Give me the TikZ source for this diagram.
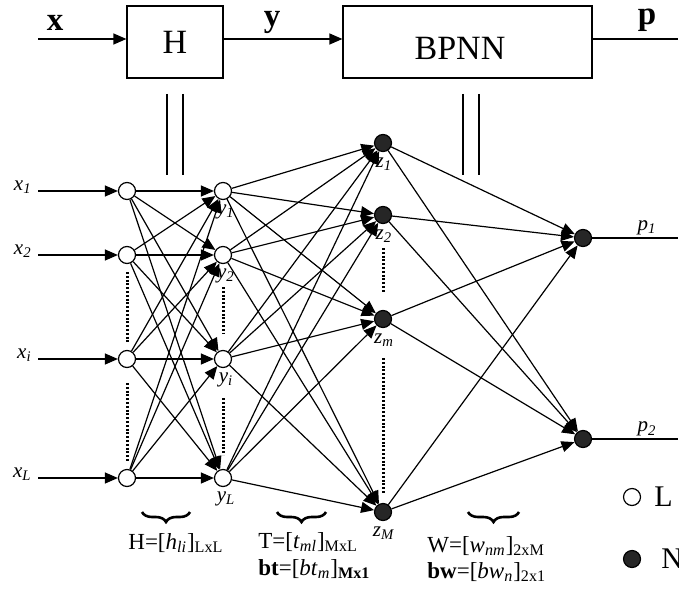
\documentclass[tikz,border=0pt]{standalone}
\usepackage{fontspec}
\setmainfont{Liberation Serif}
\usetikzlibrary{arrows.meta,decorations.pathreplacing}

\newcommand{\vr}[2]{\textit{#1}\textsubscript{\textit{#2}}}

\tikzset{
  lin/.style={circle,draw,fill=white,line width=0.6pt,minimum size=8.5pt,inner sep=0pt},
  nlin/.style={circle,draw,fill=black!85,line width=0.6pt,minimum size=8.5pt,inner sep=0pt},
  blk/.style={draw,line width=0.6pt,minimum height=36pt,inner sep=0pt,font=\fontsize{17}{18}\selectfont},
  con/.style={line width=0.6pt,-{Triangle[length=6.5pt,width=5.5pt]}},
  wire/.style={line width=0.6pt},
  dots/.style={line width=1.5pt,dash pattern=on 1pt off 0.9pt},
  lbl/.style={font=\fontsize{10.5}{12}\selectfont,inner sep=0pt},
  big/.style={font=\fontsize{16.5}{18}\selectfont,inner sep=0pt},
  mat/.style={font=\fontsize{11.5}{14}\selectfont,inner sep=0pt,anchor=west},
  brc/.style={decorate,decoration={brace,mirror,amplitude=5pt},line width=1.3pt}
}

\begin{document}
\begin{tikzpicture}[x=0.5pt,y=-0.5pt]
	\useasboundingbox (0,0) rectangle (699,588);
	% block diagram
	\node[blk,minimum width=48pt] (H) at (175,42) {H};
	\node[blk,minimum width=124.5pt] (bp) at (467.5,42) {};
	\node[blk,draw=none,minimum height=0pt] (bptext) at (460,48) {BPNN};
	\coordinate (xin) at (38,39);
	\coordinate (pout) at (678,39);
	\draw[con] (xin) -- (xin -| H.west);
	\draw[con] (H.east |- xin) -- (xin -| bp.west);
	\draw[wire] (bp.east |- xin) -- (pout);
	\node[big] (lx) at (55,23) {\textbf{x}};
	\node[big] (ly) at (272,22) {\textbf{y}};
	\node[big] (lp) at (647,20) {\textbf{p}};
	\draw[wire] (167,94) -- (167,175);
	\draw[wire] (183,94) -- (183,175);
	\draw[wire] (463,94) -- (463,175);
	\draw[wire] (479,94) -- (479,175);
	% layers
	\foreach \n/\yy in {1/191,2/255,i/359,L/478} {
		\node[lin] (x\n) at (127,\yy) {};
		\node[lin] (y\n) at (223,\yy) {};
		\coordinate (a\n) at (38,\yy);
		\draw[con] (a\n) -- (x\n);
		\node[lbl,anchor=east] at (32,\yy-4) {\vr{x}{\n}};
		\node[lbl] at (226,\yy+21) {\vr{y}{\n}};
	}
	\foreach \n/\yy in {1/143,2/215,m/319,M/512} {
		\node[nlin] (z\n) at (383,\yy) {};
		\node[lbl] at (384,\yy+21) {\vr{z}{\n}};
	}
	\foreach \n/\yy in {1/238,2/439} {
		\node[nlin] (p\n) at (583,\yy) {};
		\coordinate (o\n) at (678,\yy);
		\draw[wire] (p\n) -- (o\n);
		\node[lbl] at (647,\yy-10) {\vr{p}{\n}};
	}
	% connections
	\foreach \a in {1,2,i,L} \foreach \b in {1,2,i,L} \draw[con] (x\a) -- (y\b);
	\foreach \a in {1,2,i,L} \foreach \b in {1,2,m,M} \draw[con] (y\a) -- (z\b);
	\foreach \a in {1,2,m,M} \foreach \b in {1,2} \draw[con] (z\a) -- (p\b);
	% dotted gaps
	\draw[dots] (127,272) -- (127,342);
	\draw[dots] (127,383) -- (127,462);
	\draw[dots] (223,287) -- (223,333);
	\draw[dots] (223,398) -- (223,455);
	\draw[dots] (383,248) -- (383,293);
	\draw[dots] (383,358) -- (383,493);
	% weights
	\draw[brc] (142,512) -- (190,512);
	\draw[brc] (277,512) -- (326,512);
	\draw[brc] (468,512) -- (519,512);
	\node[mat] (mH) at (128,543) {H=[\vr{h}{li}]\textsubscript{LxL}};
	\node[mat] (mT) at (258,542) {T=[\vr{t}{ml}]\textsubscript{MxL}};
	\node[mat] (mbt) at (258,569) {\textbf{bt}=[\textit{bt}\textsubscript{\textit{m}}]\textsubscript{\textbf{Mx1}}};
	\node[mat] (mW) at (427,546) {W=[\vr{w}{nm}]\textsubscript{2xM}};
	\node[mat] (mbw) at (427,572) {\textbf{bw}=[\textit{bw}\textsubscript{\textit{n}}]\textsubscript{2x1}};
	% legend
	\node[lin] (leg1) at (632,497) {};
	\node[nlin] (leg2) at (632,559) {};
	\begin{scope}
		\clip (0,0) rectangle (678,588);
		\node[font=\fontsize{15}{18}\selectfont,anchor=west,inner sep=0pt] (legL) at (654,497) {L};
		\node[font=\fontsize{15}{18}\selectfont,anchor=west,inner sep=0pt] (legN) at (661,559) {N};
	\end{scope}
\end{tikzpicture}
\end{document}
